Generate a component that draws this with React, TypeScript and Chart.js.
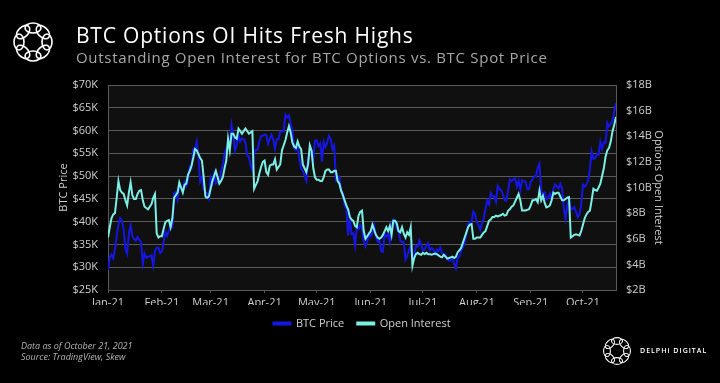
import React, { useEffect, useRef } from 'react';
import { Chart, registerables } from 'chart.js';

Chart.register(...registerables);

// ---------- data ----------
const monthLabels = ['Jan-21', 'Feb-21', 'Mar-21', 'Apr-21', 'May-21', 'Jun-21', 'Jul-21', 'Aug-21', 'Sep-21', 'Oct-21'];

// BTC spot price, $K, daily from Jan 1 2021 to Oct 20 2021
const btcPrice = [
  // Jan
  29.37, 32.13, 32.78, 31.97, 33.99, 36.82, 39.37, 40.8, 40.25, 38.24, 34.0, 33.0, 37.3, 39.2, 36.8, 36.2, 35.8, 36.6, 36.0, 35.5, 30.8, 33.0, 32.1, 32.3, 32.4, 32.6, 30.4, 33.5, 34.3, 34.3, 33.1,
  // Feb
  33.5, 35.5, 37.7, 36.9, 38.1, 39.3, 38.9, 46.2, 46.5, 44.9, 48.0, 47.5, 47.1, 48.7, 47.9, 49.2, 52.1, 51.7, 55.9, 55.9, 57.5, 54.2, 48.8, 49.7, 47.1, 46.3, 46.2, 45.1,
  // Mar
  49.6, 48.4, 50.5, 48.4, 48.8, 48.9, 51.2, 52.4, 54.9, 55.9, 57.3, 57.2, 61.2, 59.0, 55.6, 56.9, 58.9, 57.6, 58.3, 58.1, 57.4, 54.5, 54.3, 52.3, 51.3, 55.1, 55.8, 55.8, 57.6, 58.8, 58.9,
  // Apr
  59.1, 59.0, 57.1, 58.2, 59.1, 58.0, 56.0, 58.1, 58.1, 59.8, 59.8, 59.8, 63.5, 62.9, 63.3, 61.5, 60.1, 56.2, 55.7, 56.5, 53.8, 51.8, 51.1, 50.1, 49.0, 54.0, 55.0, 54.8, 53.6, 57.8,
  // May
  57.8, 56.6, 57.2, 53.2, 57.5, 56.4, 57.4, 58.8, 58.2, 55.9, 56.7, 49.2, 49.7, 49.9, 46.8, 46.4, 43.5, 42.9, 37.0, 40.8, 37.3, 37.5, 34.8, 38.8, 38.4, 39.3, 38.5, 35.7, 34.6, 35.7, 37.3,
  // Jun
  36.7, 37.6, 39.2, 36.9, 35.6, 35.8, 33.6, 33.4, 37.4, 36.7, 37.3, 35.6, 39.1, 40.5, 40.2, 38.3, 38.1, 35.8, 35.5, 35.6, 31.7, 32.5, 33.7, 34.7, 31.6, 32.2, 34.7, 34.5, 35.9, 35.0,
  // Jul
  33.6, 33.9, 34.7, 35.3, 33.7, 34.2, 33.9, 32.9, 33.8, 33.5, 34.3, 33.1, 32.7, 32.8, 31.8, 31.4, 31.5, 31.8, 30.8, 29.8, 32.1, 32.3, 33.6, 34.3, 35.4, 37.3, 39.4, 40.0, 40.0, 42.2, 41.6,
  // Aug
  39.9, 39.2, 38.2, 39.7, 40.9, 42.8, 44.6, 43.8, 46.3, 45.6, 45.6, 44.4, 47.8, 47.1, 47.0, 45.9, 44.7, 44.6, 46.8, 49.3, 48.9, 49.3, 49.5, 47.7, 49.0, 46.9, 49.1, 48.9, 48.8, 47.1, 47.2,
  // Sep
  48.8, 49.3, 50.0, 49.9, 51.8, 52.7, 46.8, 46.1, 46.4, 44.9, 45.2, 46.1, 44.9, 47.1, 48.2, 47.8, 47.3, 48.3, 47.3, 43.0, 40.7, 43.6, 44.9, 42.8, 42.7, 43.2, 42.2, 41.0, 41.5, 43.8,
  // Oct
  48.1, 47.7, 48.2, 49.1, 51.5, 55.4, 53.8, 53.9, 54.9, 54.7, 57.5, 56.0, 57.4, 57.3, 61.7, 60.9, 61.5, 62.0, 64.3, 66.0,
];

// BTC options open interest, $B, daily from Jan 1 2021 to Oct 20 2021
const openInterest = [
  // Jan
  6.1, 6.9, 7.6, 7.9, 8.0, 9.2, 10.5, 9.8, 9.6, 9.5, 9.0, 8.6, 9.6, 10.4, 9.4, 9.1, 9.1, 9.5, 9.75, 9.8, 9.0, 8.5, 8.4, 8.3, 8.5, 8.7, 9.2, 9.5, 6.4, 6.1, 6.2,
  // Feb
  6.2, 6.8, 7.3, 7.4, 7.45, 6.9, 7.6, 9.2, 9.4, 9.6, 10.4, 10.0, 9.6, 10.2, 10.3, 11.0, 11.3, 11.7, 12.3, 13.0, 12.9, 12.6, 12.3, 12.1, 10.8, 9.3, 9.2, 9.3,
  // Mar
  9.9, 10.5, 10.9, 11.3, 10.8, 10.3, 10.5, 10.8, 11.5, 12.1, 13.8, 12.9, 14.2, 14.2, 13.9, 13.8, 14.6, 14.4, 14.2, 14.4, 14.6, 14.4, 14.2, 14.3, 14.4, 9.9, 10.2, 10.5, 11.1, 11.6, 12.0,
  // Apr
  12.1, 11.2, 11.0, 11.7, 11.8, 11.8, 12.2, 11.4, 11.6, 11.8, 12.9, 13.3, 13.7, 14.3, 14.8, 14.3, 13.5, 13.2, 13.1, 13.6, 13.2, 13.0, 11.8, 11.5, 11.2, 11.8, 13.3, 12.9, 11.5, 10.8,
  // May
  10.6, 10.6, 10.5, 10.5, 10.8, 11.3, 11.4, 11.4, 11.2, 11.2, 11.3, 11.3, 10.5, 10.3, 9.75, 9.4, 9.0, 8.6, 8.3, 7.7, 7.5, 7.4, 7.0, 6.9, 7.8, 8.1, 8.2, 6.6, 6.0, 6.2, 6.4,
  // Jun
  6.6, 7.1, 6.7, 6.3, 6.1, 6.0, 6.1, 6.3, 6.6, 6.9, 6.6, 7.0, 6.3, 7.4, 7.4, 7.2, 6.6, 6.5, 6.9, 6.4, 6.1, 6.5, 6.3, 6.9, 3.9, 4.5, 4.8, 4.9, 4.8, 4.75,
  // Jul
  4.9, 4.8, 4.9, 4.8, 4.8, 4.75, 4.8, 4.85, 4.8, 4.7, 4.6, 4.55, 4.75, 4.6, 4.45, 4.5, 4.55, 4.6, 4.5, 4.6, 4.95, 5.1, 5.3, 5.7, 6.1, 6.5, 6.9, 7.1, 7.15, 6.0, 6.0,
  // Aug
  6.1, 6.1, 6.1, 6.3, 6.5, 6.6, 7.0, 7.4, 7.5, 7.7, 7.7, 7.8, 7.75, 7.8, 7.85, 7.95, 7.8, 7.85, 8.2, 8.3, 8.5, 8.6, 8.9, 9.2, 9.5, 9.0, 8.2, 8.2, 8.2, 8.25, 8.3,
  // Sep
  8.6, 9.0, 9.0, 9.1, 8.85, 9.75, 9.0, 9.35, 8.8, 8.45, 8.5, 8.6, 9.0, 9.6, 9.5, 9.6, 9.6, 9.3, 9.0, 9.0, 9.1, 9.2, 9.25, 6.1, 6.2, 6.3, 6.35, 6.3, 6.25, 6.6,
  // Oct
  7.1, 7.6, 7.9, 8.1, 8.2, 9.0, 9.9, 9.8, 9.75, 10.0, 10.3, 10.9, 11.5, 12.4, 12.9, 13.1, 13.6, 14.4, 14.9, 15.5,
];

const priceAxis = { min: 25, max: 70, step: 5 };
const oiAxis = { min: 2, max: 18, step: 2 };

// ---------- styles ----------
const BLUE = '#1616e4';
const CYAN = '#7cf0e4';
const GRID = '#5a5a5a';
const TEXT = '#cfcfcf';
const FONT = "'Open Sans', 'Noto Sans', sans-serif";

const dayOffset = (m: number) => Math.round((Date.UTC(2021, m, 1) - Date.UTC(2021, 0, 1)) / 86400000);
const monthStartDays = monthLabels.map((_, m) => dayOffset(m));

const plotBg = {
  id: 'plotBg',
  beforeDraw(chart: any) {
    const { ctx, chartArea } = chart;
    if (!chartArea) return;
    ctx.save();
    ctx.fillStyle = '#101010';
    ctx.fillRect(chartArea.left, chartArea.top, chartArea.right - chartArea.left, chartArea.bottom - chartArea.top);
    ctx.restore();
  },
};

function Ring({ cx, cy, r, rx, ry, sw }: { cx: number; cy: number; r: number; rx: number; ry: number; sw: number }) {
  const angles = [0, 45, 90, 135, 180, 225, 270, 315];
  return (
    <g>
      {angles.map((a) => {
        const rad = (a * Math.PI) / 180;
        const x = cx + r * Math.cos(rad);
        const y = cy + r * Math.sin(rad);
        return (
          <ellipse
            key={a}
            cx={x}
            cy={y}
            rx={rx}
            ry={ry}
            transform={`rotate(${a + 90} ${x} ${y})`}
            fill="none"
            stroke="#ffffff"
            strokeWidth={sw}
          />
        );
      })}
    </g>
  );
}

export default function App() {
  const ref = useRef<HTMLCanvasElement | null>(null);

  useEffect(() => {
    if (!ref.current) return;
    const chart = new Chart(ref.current, {
      type: 'line',
      data: {
        datasets: [
          {
            label: 'BTC Price',
            data: btcPrice.map((v, i) => ({ x: i, y: v })),
            yAxisID: 'y',
            borderColor: BLUE,
            backgroundColor: BLUE,
            borderWidth: 2,
            pointRadius: 0,
            tension: 0,
            order: 2,
          },
          {
            label: 'Open Interest',
            data: openInterest.map((v, i) => ({ x: i, y: v })),
            yAxisID: 'y1',
            borderColor: CYAN,
            backgroundColor: CYAN,
            borderWidth: 2,
            pointRadius: 0,
            tension: 0,
            order: 1,
          },
        ],
      },
      options: {
        responsive: false,
        animation: false,
        layout: { padding: { top: 85, bottom: 44, left: 0, right: 0 } },
        plugins: {
          legend: {
            position: 'bottom',
            fullSize: false,
            labels: {
              color: TEXT,
              font: { family: FONT, size: 11 },
              boxWidth: 17,
              boxHeight: 2,
              padding: 13,
              sort: (a: any, b: any) => a.datasetIndex - b.datasetIndex,
            },
          },
          tooltip: { enabled: false },
        },
        scales: {
          x: {
            type: 'linear',
            min: 0,
            max: btcPrice.length - 1,
            afterBuildTicks: (axis: any) => {
              axis.ticks = monthStartDays.map((v) => ({ value: v }));
            },
            afterFit: (s: any) => {
              s.height = 15;
            },
            ticks: {
              autoSkip: false,
              maxRotation: 0,
              color: TEXT,
              font: { family: FONT, size: 11 },
              padding: 3,
              callback: (_v: any, i: number) => monthLabels[i] ?? '',
            },
            grid: { drawOnChartArea: false, drawTicks: true, tickLength: 3, color: GRID },
            border: { display: true, color: GRID, width: 1 },
          },
          y: {
            position: 'left',
            min: priceAxis.min,
            max: priceAxis.max,
            afterFit: (s: any) => {
              s.width = 108;
            },
            ticks: {
              stepSize: priceAxis.step,
              color: TEXT,
              font: { family: FONT, size: 11 },
              padding: 10,
              callback: (v: any) => `$${v}K`,
            },
            grid: { color: GRID, lineWidth: 1, drawTicks: false },
            border: { display: true, color: GRID, width: 1 },
            title: {
              display: true,
              text: 'BTC Price',
              color: TEXT,
              font: { family: FONT, size: 11 },
              padding: { top: 57, bottom: 0 },
            },
          },
          y1: {
            position: 'right',
            min: oiAxis.min,
            max: oiAxis.max,
            afterFit: (s: any) => {
              s.width = 104;
            },
            ticks: {
              stepSize: oiAxis.step,
              color: TEXT,
              font: { family: FONT, size: 11 },
              padding: 10,
              callback: (v: any) => `$${v}B`,
            },
            grid: { drawOnChartArea: false, drawTicks: false },
            border: { display: true, color: GRID, width: 1 },
            title: {
              display: true,
              text: 'Options Open Interest',
              color: TEXT,
              font: { family: FONT, size: 11 },
              padding: { top: 55, bottom: 0 },
            },
          },
        },
      } as any,
      plugins: [plotBg],
    });
    return () => chart.destroy();
  }, []);

  return (
    <div
      style={{
        position: 'fixed',
        left: 0,
        top: 0,
        width: 720,
        height: 383,
        background: '#000',
        overflow: 'hidden',
        fontFamily: FONT,
      }}
    >
      <svg width={720} height={383} style={{ position: 'absolute', left: 0, top: 0 }}>
        <Ring cx={33} cy={42} r={14} rx={8} ry={5} sw={1.6} />
        <Ring cx={617} cy={351} r={10} rx={5.5} ry={3.4} sw={1.1} />
      </svg>
      <canvas ref={ref} width={720} height={383} style={{ position: 'absolute', left: 0, top: 0 }} />
      <div
        style={{
          position: 'absolute',
          left: 76,
          top: 25,
          fontSize: 21,
          lineHeight: '21px',
          letterSpacing: 0.8,
          color: '#ffffff',
          whiteSpace: 'nowrap',
        }}
      >
        BTC Options OI Hits Fresh Highs
      </div>
      <div
        style={{
          position: 'absolute',
          left: 76,
          top: 50,
          fontSize: 15,
          lineHeight: '15px',
          letterSpacing: 0.7,
          color: '#a8a8a8',
          whiteSpace: 'nowrap',
        }}
      >
        Outstanding Open Interest for BTC Options vs. BTC Spot Price
      </div>
      <div
        style={{
          position: 'absolute',
          left: 21,
          top: 340,
          fontSize: 9,
          lineHeight: '11px',
          color: '#b4b4b4',
          fontStyle: 'italic',
          whiteSpace: 'nowrap',
        }}
      >
        Data as of October 21, 2021
        <br />
        Source: TradingView, Skew
      </div>
      <div
        style={{
          position: 'absolute',
          left: 640,
          top: 346,
          fontSize: 7,
          lineHeight: '10px',
          color: '#ffffff',
          letterSpacing: 1.0,
          fontWeight: 600,
          whiteSpace: 'nowrap',
        }}
      >
        DELPHI DIGITAL
      </div>
    </div>
  );
}
